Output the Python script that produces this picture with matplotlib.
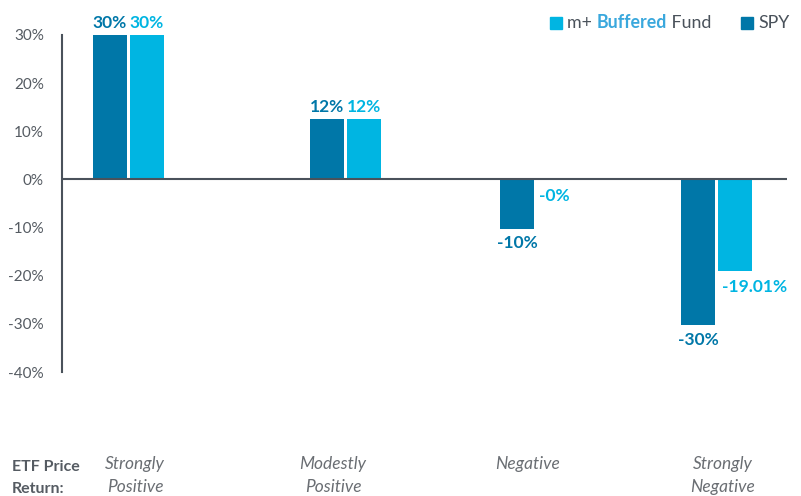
import matplotlib
matplotlib.use("Agg")
import matplotlib.pyplot as plt
from matplotlib.patches import Rectangle

plt.rcParams['font.family'] = ['Lato', 'DejaVu Sans']

# data
categories = ["Strongly\nPositive", "Modestly\nPositive", "Negative", "Strongly\nNegative"]
spy = [30, 12.5, -10.2, -30.3]
buffered = [30, 12.5, -0.05, -19.01]
spy_labels = ["30%", "12%", "-10%", "-30%"]
buffered_labels = ["30%", "12%", "-0%", "-19.01%"]
yticks = [30, 20, 10, 0, -10, -20, -30, -40]

DARK = "#0077a8"
LIGHT = "#00b5e2"
AXIS = "#4a525b"
TICK = "#555b62"
CAT = "#6a6e73"

W, H = 801, 496
fig = plt.figure(figsize=(W / 100, H / 100), dpi=100)
ax_left, ax_right, ax_top, ax_bot = 62, 787, 35, 372
ax = fig.add_axes([ax_left / W, 1 - ax_bot / H, (ax_right - ax_left) / W, (ax_bot - ax_top) / H])

# group centres in pixels from the y axis (groups are not evenly spaced)
group_x = [66.5, 283.5, 473.5, 654.5]
bw = 34
off = 18.5
spy_x = [g - off for g in group_x]
buf_x = [g + off for g in group_x]

ax.bar(spy_x, spy, width=bw, color=DARK, zorder=2)
ax.bar(buf_x, buffered, width=bw, color=LIGHT, zorder=2)

ax.set_xlim(0, ax_right - ax_left)
ax.set_ylim(-40, 30)
ax.axhline(0, color=AXIS, lw=1.5, zorder=3)

for s in ["top", "right", "bottom"]:
    ax.spines[s].set_visible(False)
ax.spines["left"].set_color(AXIS)
ax.spines["left"].set_linewidth(1.5)
ax.set_xticks([])
ax.set_yticks(yticks)
ax.set_yticklabels([f"{t}%" for t in yticks])
ax.tick_params(axis="y", length=0, pad=13, labelsize=11, labelcolor=TICK)

VS = 12.5
# value labels
for x, v, lab in zip(spy_x, spy, spy_labels):
    if v >= 0:
        ax.annotate(lab, (x, v), xytext=(0, 3), textcoords="offset points",
                    ha="center", va="bottom", color=DARK, fontsize=VS, fontweight="bold", annotation_clip=False)
    else:
        ax.annotate(lab, (x, v), xytext=(0, -5), textcoords="offset points",
                    ha="center", va="top", color=DARK, fontsize=VS, fontweight="bold", annotation_clip=False)
for i, (x, v, lab) in enumerate(zip(buf_x, buffered, buffered_labels)):
    if v >= 0:
        ax.annotate(lab, (x, v), xytext=(0, 3), textcoords="offset points",
                    ha="center", va="bottom", color=LIGHT, fontsize=VS, fontweight="bold", annotation_clip=False)
    else:
        dx = 14 if i == 3 else 0
        ax.annotate(lab, (x, v), xytext=(dx, -6), textcoords="offset points",
                    ha="center", va="top", color=LIGHT, fontsize=VS, fontweight="bold", annotation_clip=False)

# category labels along the bottom
cat_x = [135, 333, 528, 723]
for cx, c in zip(cat_x, categories):
    fig.text(cx / W, 1 - 456 / H, c, ha="center", va="top", style="italic",
             color=CAT, fontsize=12.5, linespacing=1.55)
fig.text(12 / W, 1 - 460 / H, "ETF Price\nReturn:", ha="left", va="top",
         fontweight="bold", color=TICK, fontsize=11.5, linespacing=1.7)

# legend drawn by hand so "Buffered" can be coloured
fig.patches.append(Rectangle((550 / W, 1 - 29 / H), 12 / W, 12 / H, transform=fig.transFigure,
                             color=LIGHT, figure=fig))
fig.patches.append(Rectangle((741 / W, 1 - 29 / H), 12 / W, 12 / H, transform=fig.transFigure,
                             color=DARK, figure=fig))
LS = 12.8
t1 = fig.text(567 / W, 1 - 23 / H, "m+ ", ha="left", va="center", color=AXIS, fontsize=LS)
t2 = ax.annotate("Buffered", xy=(1, 0), xycoords=t1, va="bottom", ha="left",
                 color="#3aa8dd", fontsize=LS, fontweight="bold", annotation_clip=False)
t3 = ax.annotate(" Fund", xy=(1, 0), xycoords=t2, va="bottom", ha="left",
                 color=AXIS, fontsize=LS, annotation_clip=False)
fig.text(758 / W, 1 - 23 / H, "SPY", ha="left", va="center", color=AXIS, fontsize=LS)

fig.savefig("out.png", dpi=100)
